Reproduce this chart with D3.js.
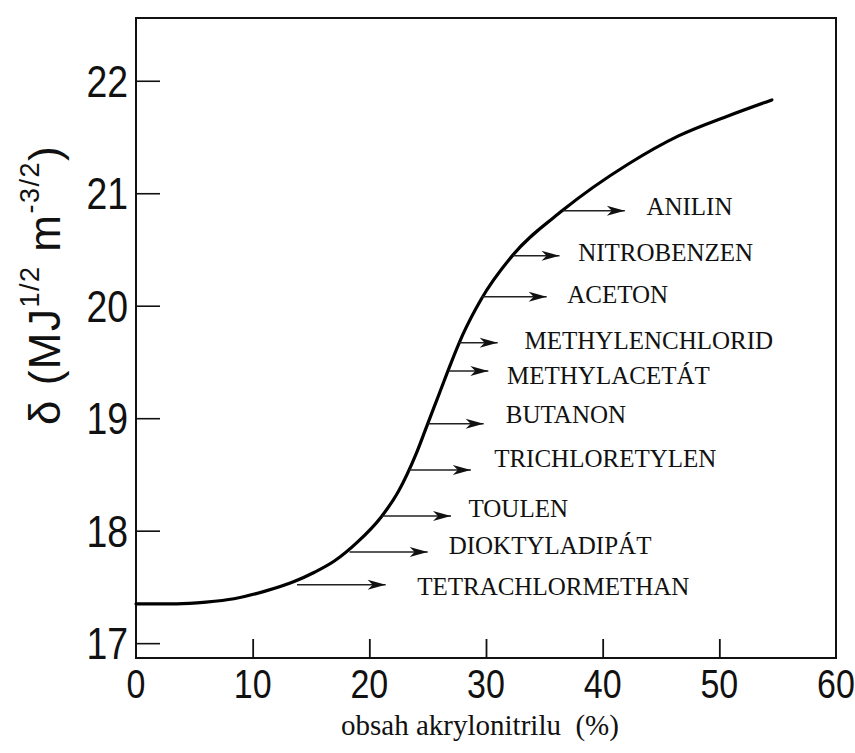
<!DOCTYPE html>
<html><head><meta charset="utf-8">
<script src="https://cdn.jsdelivr.net/npm/d3@7"></script>
<style>body{margin:0;background:#fff}svg{display:block}</style>
</head><body>
<script>
// ---- data ----
const curveX     = [0, 3.5, 6, 8.4, 11, 13.5, 15.3, 17, 19, 21, 22.5, 24, 25, 26, 27, 28, 29.6, 32.3, 36.6, 42.2, 46.5, 50.8, 54.5];
const curveDelta = [17.35, 17.35, 17.365, 17.395, 17.46, 17.545, 17.63, 17.73, 17.90, 18.12, 18.35, 18.68, 18.95, 19.22, 19.49, 19.74, 20.06, 20.45, 20.85, 21.26, 21.51, 21.69, 21.83];

const solvents    = ["ANILIN","NITROBENZEN","ACETON","METHYLENCHLORID","METHYLACETÁT","BUTANON","TRICHLORETYLEN","TOULEN","DIOKTYLADIPÁT","TETRACHLORMETHAN"];
const arrowDelta  = [20.845, 20.445, 20.08, 19.67, 19.42, 18.95, 18.54, 18.13, 17.81, 17.52];
const arrowStartX = [36.6, 32.3, 29.6, 27.7, 26.8, 25.0, 23.4, 21.1, 18.3, 13.8];
const arrowEndX   = [41.9, 36.3, 35.2, 31.0, 30.2, 29.8, 28.7, 27.0, 25.0, 21.4];
const labelX      = [43.75, 37.9, 36.96, 33.3, 31.8, 31.7, 30.7, 28.5, 26.8, 24.1];
const labelDelta  = [20.88, 20.47, 20.1, 19.69, 19.38, 19.03, 18.64, 18.2, 17.87, 17.5];

const xTicks = [0, 10, 20, 30, 40, 50, 60];
const yTicks = [17, 18, 19, 20, 21, 22];
const xTitle = "obsah akrylonitrilu  (%)";

// ---- layout ----
const W = 855, H = 753;
const L = 136, R = 836, T = 18, B = 658;
const x = d3.scaleLinear().domain([0, 60]).range([L, R]);
const y = d3.scaleLinear().domain([16.868, 22.558]).range([B, T]);

const svg = d3.select("body").append("svg").attr("width", W).attr("height", H);

// arrowhead marker
svg.append("defs").append("marker")
  .attr("id", "ah").attr("markerUnits", "userSpaceOnUse")
  .attr("viewBox", "0 -7 20 14").attr("refX", 19).attr("refY", 0)
  .attr("markerWidth", 20).attr("markerHeight", 14).attr("orient", "auto")
  .append("path").attr("d", "M1,-5 L19,0 L1,5 L6,0 Z").attr("fill", "#111");

// frame
svg.append("rect").attr("x", L).attr("y", T).attr("width", R - L).attr("height", B - T)
  .attr("fill", "none").attr("stroke", "#111").attr("stroke-width", 2);

const tickFont = "'Liberation Sans', Arial, sans-serif";

// y axis (ticks inward)
const yAxis = d3.axisRight(y).tickValues(yTicks).tickSize(24).tickFormat("");
const gy = svg.append("g").attr("transform", `translate(${L},0)`).call(yAxis);
gy.select(".domain").remove();
gy.selectAll(".tick line").attr("stroke", "#111").attr("stroke-width", 1.6);

svg.append("g").selectAll("text").data(yTicks).join("text")
  .attr("transform", d => `translate(${L - 8},${y(d)}) scale(0.85,1)`)
  .attr("dy", "0.36em").attr("text-anchor", "end")
  .style("font-family", tickFont).style("font-size", "44px").attr("fill", "#111")
  .text(d => d);

// x axis (ticks inward)
const xAxis = d3.axisTop(x).tickValues(xTicks.filter(d => d > 0 && d < 60)).tickSize(19).tickFormat("");
const gx = svg.append("g").attr("transform", `translate(0,${B})`).call(xAxis);
gx.select(".domain").remove();
gx.selectAll(".tick line").attr("stroke", "#111").attr("stroke-width", 1.8);

svg.append("g").selectAll("text").data(xTicks).join("text")
  .attr("transform", d => `translate(${x(d)},698) scale(0.85,1)`)
  .attr("text-anchor", "middle")
  .style("font-family", tickFont).style("font-size", "40px").attr("fill", "#111")
  .text(d => d);

// x title
svg.append("text").attr("x", 480).attr("y", 735).attr("text-anchor", "middle")
  .attr("xml:space", "preserve").style("white-space", "pre")
  .style("font-family", "'Liberation Serif', 'Times New Roman', serif")
  .style("font-size", "29px").attr("fill", "#111")
  .text(xTitle);

// y title
const yt = svg.append("text").attr("transform", "translate(60,285) rotate(-90)")
  .attr("text-anchor", "middle").attr("xml:space", "preserve").style("white-space", "pre")
  .style("font-family", tickFont).style("letter-spacing", "1.5px")
  .style("font-size", "44px").attr("fill", "#111");
yt.append("tspan").text("δ (MJ");
yt.append("tspan").attr("dy", -21).style("font-size", "27px").text("1/2");
yt.append("tspan").attr("dy", 21).text(" m");
yt.append("tspan").attr("dy", -21).style("font-size", "27px").text("-3/2");
yt.append("tspan").attr("dy", 21).text(")");

// curve
const pts = curveX.map((d, i) => [d, curveDelta[i]]);
svg.append("path").datum(pts)
  .attr("d", d3.line().x(d => x(d[0])).y(d => y(d[1])).curve(d3.curveMonotoneX))
  .attr("fill", "none").attr("stroke", "#000").attr("stroke-width", 3.2)
  .attr("stroke-linecap", "round");

// arrows
svg.append("g").selectAll("line").data(solvents).join("line")
  .attr("x1", (d, i) => x(arrowStartX[i])).attr("x2", (d, i) => x(arrowEndX[i]))
  .attr("y1", (d, i) => y(arrowDelta[i])).attr("y2", (d, i) => y(arrowDelta[i]))
  .attr("stroke", "#222").attr("stroke-width", 1.5)
  .attr("marker-end", "url(#ah)");

// labels
svg.append("g").selectAll("text").data(solvents).join("text")
  .attr("x", (d, i) => x(labelX[i])).attr("y", (d, i) => y(labelDelta[i])).attr("dy", "0.34em")
  .style("font-family", "'Liberation Serif', 'Times New Roman', serif")
  .style("font-size", "25px").attr("fill", "#111")
  .text(d => d);
</script>
</body></html>
